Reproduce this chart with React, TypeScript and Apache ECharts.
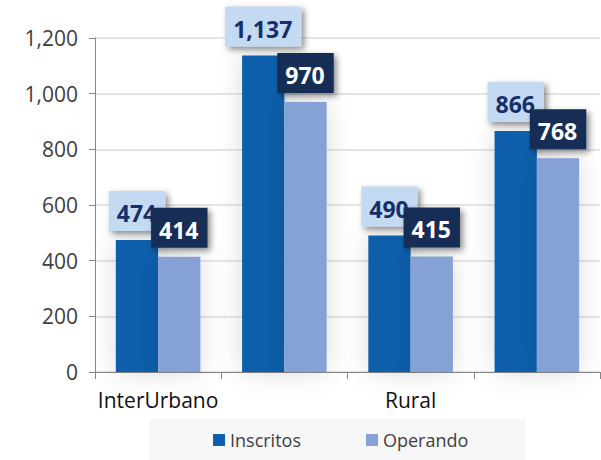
import React, { useEffect, useRef } from "react";
import * as echarts from "echarts";

const categories = ["InterUrbano", "", "Rural", " "];
const seriesNames = ["Inscritos", "Operando"];
const inscritos = [474, 1137, 490, 866];
const operando = [414, 970, 415, 768];
const yMin = 0;
const yMax = 1200;
const yInterval = 200;

const fmt = (v: number) => Number(v).toLocaleString("en-US");
const FONT = "'Open Sans', sans-serif";

export default function App() {
  const ref = useRef<HTMLDivElement>(null);
  useEffect(() => {
    if (!ref.current) return;
    const chart = echarts.init(ref.current, undefined, { renderer: "svg" });
    const labelBase = {
      show: true,
      position: "top" as const,
      distance: 9,
      fontFamily: FONT,
      fontWeight: "bold" as const,
      fontSize: 23,
      lineHeight: 26,
      padding: [9, 9, 5, 8],
      shadowBlur: 6,
      shadowColor: "rgba(0,0,0,0.45)",
      shadowOffsetX: 3,
      shadowOffsetY: 3,
      formatter: (p: any) => fmt(p.value),
    };
    chart.setOption({
      animation: false,
      backgroundColor: "#ffffff",
      textStyle: { fontFamily: FONT },
      grid: { left: 95, right: 1, top: 38, bottom: 88, containLabel: false },
      legend: {
        data: seriesNames,
        top: 419,
        left: 149,
        padding: [12, 57, 12, 64],
        backgroundColor: "#f7f7f7",
        itemWidth: 12,
        itemHeight: 12,
        itemGap: 65,
        icon: "rect",
        selectedMode: false,
        textStyle: { fontFamily: FONT, fontSize: 18, color: "#404040", padding: [0, 0, 0, 0] },
      },
      xAxis: {
        type: "category",
        data: categories,
        axisLine: { show: true, lineStyle: { color: "#868686", width: 1 } },
        axisTick: { show: true, length: 7, lineStyle: { color: "#868686" } },
        axisLabel: { fontFamily: FONT, fontSize: 21, color: "#111111", margin: 17, interval: 0 },
      },
      yAxis: {
        type: "value",
        min: yMin,
        max: yMax,
        interval: yInterval,
        axisLine: { show: true, lineStyle: { color: "#868686", width: 1 } },
        axisTick: { show: true, length: 6, lineStyle: { color: "#868686" } },
        splitLine: { show: true, lineStyle: { color: "#dcdcdc", width: 1.5 } },
        axisLabel: { fontFamily: FONT, fontSize: 21, color: "#404040", margin: 17, formatter: (v: number) => fmt(v) },
      },
      series: [
        {
          name: seriesNames[0],
          type: "bar",
          data: inscritos,
          barGap: "0%",
          barCategoryGap: "33%",
          itemStyle: {
            color: "#0c5fac",
            shadowBlur: 26,
            shadowColor: "rgba(0,0,0,0.14)",
          },
          label: { ...labelBase, backgroundColor: "#c3daf2", color: "#162f6b" },
        },
        {
          name: seriesNames[1],
          type: "bar",
          data: operando,
          barGap: "0%",
          barCategoryGap: "33%",
          itemStyle: {
            color: "#86a1d5",
            shadowBlur: 26,
            shadowColor: "rgba(0,0,0,0.14)",
          },
          label: { ...labelBase, backgroundColor: "#142f55", color: "#ffffff" },
        },
      ],
    });
    return () => chart.dispose();
  }, []);
  return (
    <div
      ref={ref}
      style={{ position: "absolute", left: 0, top: 0, width: 601, height: 460 }}
    />
  );
}
